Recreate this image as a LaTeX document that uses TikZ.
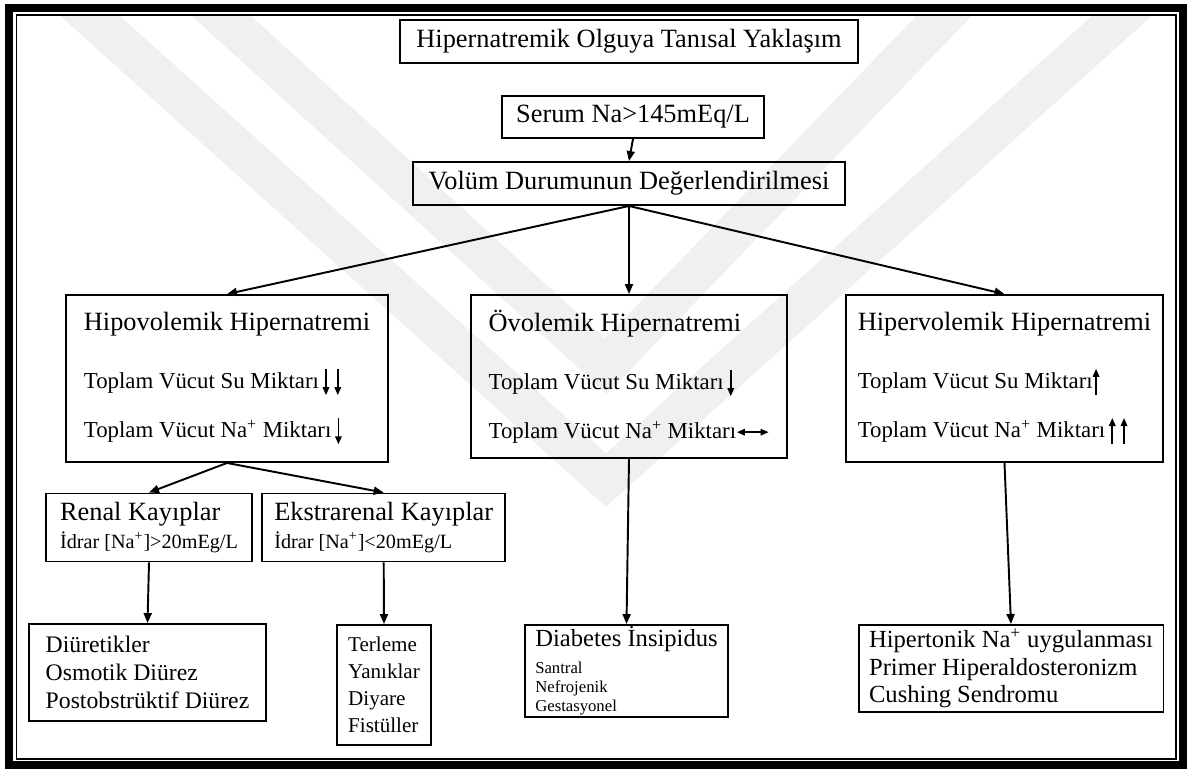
\documentclass[tikz,border=0pt]{standalone}
\usepackage{fontspec}
\setmainfont{Liberation Serif}
\usetikzlibrary{arrows.meta,positioning,calc}

\newcommand{\hdsize}{\fontsize{15}{18}\selectfont}
\newcommand{\smsize}{\fontsize{11.5}{14}\selectfont}
\newcommand{\dnar}{\tikz[baseline=0pt]\draw[-{Triangle[length=1.6mm,width=1.3mm]},line width=0.9pt] (0pt,11pt) -- (0pt,-4pt);}
\newcommand{\upar}{\tikz[baseline=0pt]\draw[-{Triangle[length=1.6mm,width=1.3mm]},line width=0.9pt] (0pt,-4pt) -- (0pt,11pt);}
\newcommand{\lrar}{\tikz[baseline=0pt]\draw[{Triangle[length=1.6mm,width=1.3mm]}-{Triangle[length=1.6mm,width=1.3mm]},line width=0.9pt] (0pt,3.5pt) -- (18pt,3.5pt);}

\begin{document}
\begin{tikzpicture}[
x=0.02cm,y=-0.02cm,
box/.style={draw,line width=1.1pt,inner sep=0pt,align=left,font=\fontsize{13}{16}\selectfont},
edge/.style={-{Triangle[length=2mm,width=1.6mm]},line width=1.1pt},
band/.style={line width=0.8cm,black!6,line join=miter}
]
\useasboundingbox (0,0) rectangle (1187,769);
\begin{scope}
\clip (17,15) rectangle (1176,759);
\draw[band] (28,-40) -- (606,480) -- (1184,-40);
\draw[band] (160,-40) -- (606,366) -- (998,-40);
\end{scope}
\draw[line width=0.16cm] (9,7.5) rectangle (1183,764.5);
\draw[line width=0.04cm] (16.5,15) rectangle (1176,759);

\node[box,minimum width=9.16cm,minimum height=0.86cm,font=\hdsize] (title) at (629,41.5) {Hipernatremik Olguya Tanısal Yaklaşım};
\node[box,minimum width=5.24cm,minimum height=0.84cm,font=\hdsize] (serum) at (633,117) {Serum Na>145mEq/L};
\node[box,minimum width=8.66cm,minimum height=0.86cm,font=\hdsize] (volum) at (629,183.5) {Volüm Durumunun Değerlendirilmesi};
\draw[edge] (serum.south) -- (volum.north);

\node[box,minimum width=6.44cm,minimum height=3.34cm] (hipo) at (227,378.5) {{\hdsize Hipovolemik Hipernatremi}\\[17pt]
Toplam Vücut Su Miktarı\,\dnar\hspace{3pt}\dnar\\[12pt]
Toplam Vücut Na\textsuperscript{+} Miktarı\,\dnar};
\node[box,minimum width=6.32cm,minimum height=3.26cm] (ovo) at (629,376.5) {{\hdsize Övolemik Hipernatremi}\\[17pt]
Toplam Vücut Su Miktarı\,\dnar\\[12pt]
Toplam Vücut Na\textsuperscript{+} Miktarı\lrar};
\node[box,minimum width=6.34cm,minimum height=3.34cm] (hiper) at (1004.5,378.5) {{\hdsize Hipervolemik Hipernatremi}\\[17pt]
Toplam Vücut Su Miktarı\upar\\[12pt]
Toplam Vücut Na\textsuperscript{+} Miktarı\,\upar\hspace{3pt}\upar};
\draw[edge] (volum.south) -- (hipo.north);
\draw[edge] (volum.south) -- (ovo.north);
\draw[edge] (volum.south) -- (hiper.north);

\node[box,minimum width=4.12cm,minimum height=1.36cm] (renal) at (149,527.5) {{\hdsize Renal Kayıplar}\\
{\smsize İdrar [Na\textsuperscript{+}]>20mEg/L}};
\node[box,minimum width=4.86cm,minimum height=1.36cm] (ekstra) at (383.7,527.5) {{\hdsize Ekstrarenal Kayıplar}\\
{\smsize İdrar [Na\textsuperscript{+}]<20mEg/L}};
\draw[edge] (hipo.south) -- (renal.north);
\draw[edge] (hipo.south) -- (ekstra.north);

\node[box,minimum width=4.74cm,minimum height=1.94cm,font=\fontsize{13.5}{16}\selectfont] (diur) at (147.5,672.5) {Diüretikler\\Osmotik Diürez\\Postobstrüktif Diürez};
\node[box,minimum width=1.88cm,minimum height=2.4cm,font=\fontsize{12}{15.4}\selectfont] (terle) at (384,685) {Terleme\\Yanıklar\\Diyare\\Fistüller};
\node[box,minimum width=4.06cm,minimum height=1.84cm] (di) at (626.5,671) {{\fontsize{14}{16}\selectfont Diabetes İnsipidus}\\[-1pt]
{\fontsize{9.5}{11}\selectfont Santral}\\[-5pt]
{\fontsize{9.5}{11}\selectfont Nefrojenik}\\[-5pt]
{\fontsize{9.5}{11}\selectfont Gestasyonel}};
\node[box,minimum width=6.1cm,minimum height=1.74cm,font=\fontsize{14}{15.7}\selectfont] (hlist) at (1011,668.5) {Hipertonik Na\textsuperscript{+} uygulanması\\Primer Hiperaldosteronizm\\Cushing Sendromu};
\draw[edge] (renal.south) -- (diur.north);
\draw[edge] (ekstra.south) -- (terle.north);
\draw[edge] (ovo.south) -- (di.north);
\draw[edge] (hiper.south) -- (hlist.north);
\end{tikzpicture}
\end{document}
